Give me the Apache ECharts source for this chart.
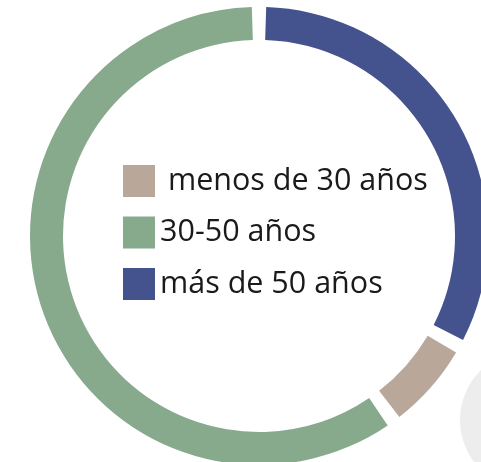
<!DOCTYPE html>
<html>
<head>
<meta charset="utf-8">
<script src="https://cdn.jsdelivr.net/npm/echarts@6/dist/echarts.min.js"></script>
<style>
  html, body { margin: 0; padding: 0; background: #fff; }
  #chart { width: 481px; height: 462px; }
</style>
</head>
<body>
<div id="chart"></div>
<script>
// grupos de edad (orden de la leyenda)
var legendNames = [' menos de 30 años', '30-50 años', 'más de 50 años']

// orden en el anillo, en sentido horario desde arriba
var ringNames = ['más de 50 años', ' menos de 30 años', '30-50 años']
var ringValues = [33, 7, 60]
var ringColors = ['#44538e', '#b9a899', '#87aa8d']

function initDonut() {
  let donutChart = echarts.init(document.getElementById('chart'))

  var data = ringNames.map(function (name, i) {
    return { name: name, value: ringValues[i], itemStyle: { color: ringColors[i] } }
  })

  var option = {
    backgroundColor: '#fff',
    animation: false,
    graphic: [
      {
        type: 'circle',
        z: -10,
        shape: { cx: 530, cy: 420, r: 70 },
        style: { fill: '#ededed' },
      },
    ],
    legend: {
      data: legendNames,
      orient: 'vertical',
      left: 123,
      top: 165,
      padding: 0,
      itemWidth: 32,
      itemHeight: 32,
      itemGap: 19.5,
      icon: 'rect',
      selectedMode: false,
      textStyle: {
        fontFamily: 'Open Sans',
        fontSize: 30.5,
        color: '#1a1a1a',
        padding: [3, 0, 0, 0],
      },
    },
    series: [
      {
        type: 'pie',
        center: [259, 236],
        radius: [196, 229],
        startAngle: 90,
        clockwise: true,
        padAngle: 3.6,
        label: { show: false },
        labelLine: { show: false },
        data: data,
      },
    ],
  }
  donutChart.setOption(option)

  window.addEventListener('resize', function () {
    donutChart.resize()
  })
}

initDonut()
</script>
</body>
</html>
